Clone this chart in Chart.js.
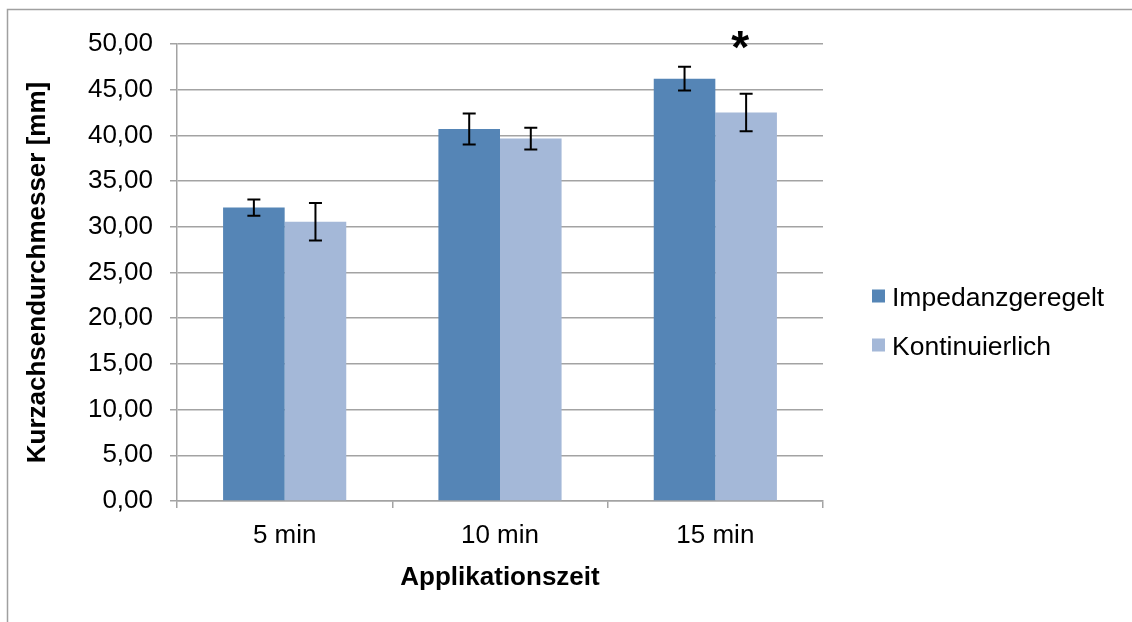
<!DOCTYPE html>
<html>
<head>
<meta charset="utf-8">
<script src="https://cdn.jsdelivr.net/npm/chart.js@4.4.1/dist/chart.umd.min.js"></script>
<style>
  html, body { margin: 0; padding: 0; background: #ffffff; }
  canvas { display: block; }
</style>
</head>
<body>
<canvas id="chart" width="1132" height="622"></canvas>
<script>
// Short-axis diameter by application time, mean ± SD
const categories = ['5 min', '10 min', '15 min'];
const seriesNames = ['Impedanzgeregelt', 'Kontinuierlich'];
const impedanzMean = [32.1, 40.7, 46.2];
const impedanzSd = [0.9, 1.7, 1.3];
const kontinuierlichMean = [30.55, 39.65, 42.5];
const kontinuierlichSd = [2.05, 1.2, 2.05];
const kontinuierlichMarks = ['', '', '*'];
const yMin = 0, yMax = 50, yStep = 5;

const FONT = '"Liberation Sans", Arial, sans-serif';
const GRID = '#a3a3a3';

// Mean ± SD whiskers and significance marks
const errorBars = {
  id: 'errorBars',
  afterDatasetsDraw(chart) {
    const ctx = chart.ctx;
    const y = chart.scales.y;
    ctx.save();
    ctx.strokeStyle = '#000000';
    ctx.lineWidth = 2;
    chart.data.datasets.forEach((ds, i) => {
      const meta = chart.getDatasetMeta(i);
      meta.data.forEach((bar, j) => {
        const m = ds.data[j], e = ds.errors[j];
        const yt = y.getPixelForValue(m + e);
        const yb = y.getPixelForValue(m - e);
        const x = bar.x, w = 6.5;
        ctx.beginPath();
        ctx.moveTo(x, yt); ctx.lineTo(x, yb);
        ctx.moveTo(x - w, yt); ctx.lineTo(x + w, yt);
        ctx.moveTo(x - w, yb); ctx.lineTo(x + w, yb);
        ctx.stroke();
        const mark = ds.marks && ds.marks[j];
        if (mark) {
          ctx.fillStyle = '#000000';
          ctx.font = 'bold 46px ' + FONT;
          ctx.textAlign = 'center';
          ctx.textBaseline = 'alphabetic';
          ctx.fillText(mark, x - 6, y.getPixelForValue(yMax) + 19);
        }
      });
    });
    ctx.restore();
  }
};

// Legend on the right, plus the chart frame lines
const sideLegend = {
  id: 'sideLegend',
  afterDraw(chart) {
    const ctx = chart.ctx;
    const area = chart.chartArea;
    ctx.save();
    // frame
    ctx.strokeStyle = '#a0a0a0';
    ctx.lineWidth = 1.5;
    ctx.beginPath();
    ctx.moveTo(7.5, chart.height);
    ctx.lineTo(7.5, 9.5);
    ctx.lineTo(chart.width, 9.5);
    ctx.stroke();
    // legend entries
    const x0 = area.right + 49;
    const y0 = (area.top + area.bottom) / 2 + 24;
    ctx.font = '26.5px ' + FONT;
    ctx.textAlign = 'left';
    ctx.textBaseline = 'middle';
    chart.data.datasets.forEach((ds, i) => {
      const yc = y0 + i * 49;
      ctx.fillStyle = ds.backgroundColor;
      ctx.fillRect(x0, yc - 7, 13, 13);
      ctx.fillStyle = '#000000';
      ctx.fillText(ds.label, x0 + 20, yc + 2);
    });
    ctx.restore();
  }
};

new Chart(document.getElementById('chart'), {
  type: 'bar',
  data: {
    labels: categories,
    datasets: [
      {
        label: seriesNames[0],
        data: impedanzMean,
        errors: impedanzSd,
        backgroundColor: '#5585b6',
        categoryPercentage: 0.572,
        barPercentage: 1.0
      },
      {
        label: seriesNames[1],
        data: kontinuierlichMean,
        errors: kontinuierlichSd,
        marks: kontinuierlichMarks,
        backgroundColor: '#a4b8d8',
        categoryPercentage: 0.572,
        barPercentage: 1.0
      }
    ]
  },
  options: {
    responsive: false,
    animation: false,
    devicePixelRatio: 1,
    layout: { padding: { left: 0, right: 309, top: 44, bottom: 0 } },
    plugins: {
      legend: { display: false },
      tooltip: { enabled: false }
    },
    scales: {
      x: {
        offset: true,
        grid: {
          offset: true,
          drawOnChartArea: false,
          drawTicks: true,
          tickLength: 7,
          color: GRID,
          lineWidth: 1.5
        },
        border: { display: true, color: GRID, width: 1.5 },
        ticks: {
          color: '#000000',
          font: { family: FONT, size: 26 },
          padding: 12,
          maxRotation: 0
        },
        title: {
          display: true,
          text: 'Applikationszeit',
          color: '#000000',
          font: { family: FONT, size: 26, weight: 'bold' },
          padding: { top: 0, bottom: 29 }
        },
        afterFit(scale) { scale.height = 121; }
      },
      y: {
        min: yMin,
        max: yMax,
        grid: {
          drawOnChartArea: true,
          drawTicks: true,
          tickLength: 7,
          color: GRID,
          lineWidth: 1.5
        },
        border: { display: true, color: GRID, width: 1.5 },
        ticks: {
          stepSize: yStep,
          color: '#000000',
          font: { family: FONT, size: 26 },
          padding: 17,
          callback: (v) => Number(v).toFixed(2).replace('.', ',')
        },
        title: {
          display: true,
          text: 'Kurzachsendurchmesser [mm]',
          color: '#000000',
          font: { family: FONT, size: 26, weight: 'bold' },
          padding: { top: 22, bottom: 0 }
        },
        afterFit(scale) { scale.width = 177; }
      }
    }
  },
  plugins: [errorBars, sideLegend]
});
</script>
</body>
</html>
